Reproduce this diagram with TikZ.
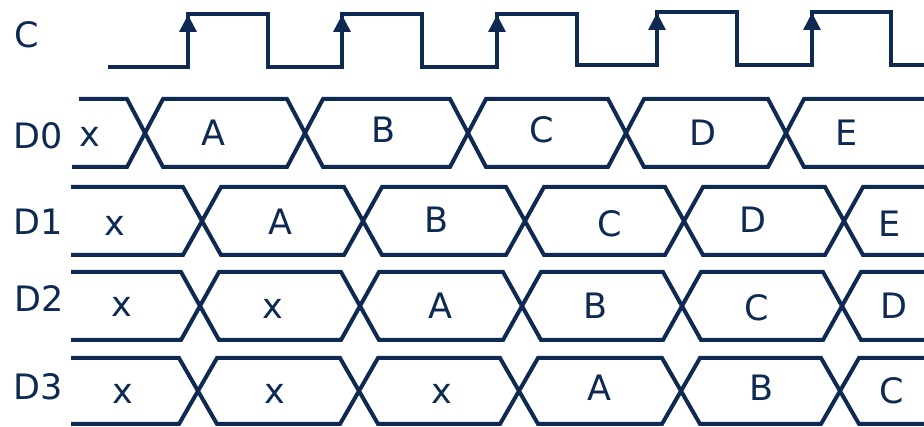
\documentclass[tikz,border=0pt]{standalone}
\usepackage{fontspec}
\setmainfont{DejaVu Sans}
\definecolor{navy}{RGB}{14,42,82}
\begin{document}
\begin{tikzpicture}[x=1pt,y=-1pt,
  wave/.style={draw=navy,line width=4pt},
  lbl/.style={text=navy,inner sep=0pt,font=\fontsize{35}{40}\selectfont},
  val/.style={text=navy,inner sep=0pt,font=\fontsize{35}{40}\selectfont}]
\useasboundingbox (0,0) rectangle (924,427);
% clock
\draw[wave] (108,67) -- (188,67) -- (188,14) -- (268,14) -- (268,67) -- (342,67) -- (342,14) -- (422,14) -- (422,67) -- (497,67) -- (497,14) -- (577,14) -- (577,65) -- (657,65) -- (657,12) -- (737,12) -- (737,65) -- (812,65) -- (812,12) -- (891,12) -- (891,65) -- (924,65);
\foreach \e/\t in {188/14,342/14,497/14,657/12,812/12}
  \fill[navy] (\e-9,\t+18) -- (\e+9,\t+18) -- (\e,\t+1) -- cycle;
% D0
\draw[wave] (79,99)--(127,99)--(163,167)--(287,167)--(323,99)--(450,99)--(486,167)--(608,167)--(644,99)--(768,99)--(804,167)--(924,167);
\draw[wave] (72,167)--(127,167)--(163,99)--(287,99)--(323,167)--(450,167)--(486,99)--(608,99)--(644,167)--(768,167)--(804,99)--(924,99);
% D1
\draw[wave] (71,187)--(183,187)--(221,255)--(344,255)--(382,187)--(506,187)--(544,255)--(665,255)--(703,187)--(825,187)--(863,255)--(924,255);
\draw[wave] (71,255)--(183,255)--(221,187)--(344,187)--(382,255)--(506,255)--(544,187)--(665,187)--(703,255)--(825,255)--(863,187)--(924,187);
% D2
\draw[wave] (71,272)--(181,272)--(219,340)--(341,340)--(379,272)--(503,272)--(541,340)--(663,340)--(701,272)--(823,272)--(861,340)--(924,340);
\draw[wave] (71,340)--(181,340)--(219,272)--(341,272)--(379,340)--(503,340)--(541,272)--(663,272)--(701,340)--(823,340)--(861,272)--(924,272);
% D3
\draw[wave] (71,358)--(179,358)--(217,424)--(340,424)--(378,358)--(500,358)--(538,424)--(662,424)--(700,358)--(821,358)--(859,424)--(924,424);
\draw[wave] (71,424)--(179,424)--(217,358)--(340,358)--(378,424)--(500,424)--(538,358)--(662,358)--(700,424)--(821,424)--(859,358)--(924,358);
% row labels
\node[lbl] (lc) at (27,35) {C};
\node[lbl] (l0) at (38,136) {D0};
\node[lbl] (l1) at (38,222) {D1};
\node[lbl] (l2) at (39,299) {D2};
\node[lbl] (l3) at (38,387) {D3};
% values D0
\node[val] (a0) at (90,137) {x};
\node[val] (a1) at (213,133) {A};
\node[val] (a2) at (384,130) {B};
\node[val] (a3) at (542,130) {C};
\node[val] (a4) at (703,133) {D};
\node[val] (a5) at (847,133) {E};
% values D1
\node[val] (b0) at (115,226) {x};
\node[val] (b1) at (280,222) {A};
\node[val] (b2) at (437,220) {B};
\node[val] (b3) at (610,224) {C};
\node[val] (b4) at (753,220) {D};
\node[val] (b5) at (890,224) {E};
% values D2
\node[val] (c0) at (122,307) {x};
\node[val] (c1) at (273,309) {x};
\node[val] (c2) at (440,306) {A};
\node[val] (c3) at (595,306) {B};
\node[val] (c4) at (757,308) {C};
\node[val] (c5) at (894,306) {D};
% values D3
\node[val] (d0) at (123,394) {x};
\node[val] (d1) at (275,394) {x};
\node[val] (d2) at (442,394) {x};
\node[val] (d3) at (599,388) {A};
\node[val] (d4) at (761,388) {B};
\node[val] (d5) at (892,391) {C};
\end{tikzpicture}
\end{document}
